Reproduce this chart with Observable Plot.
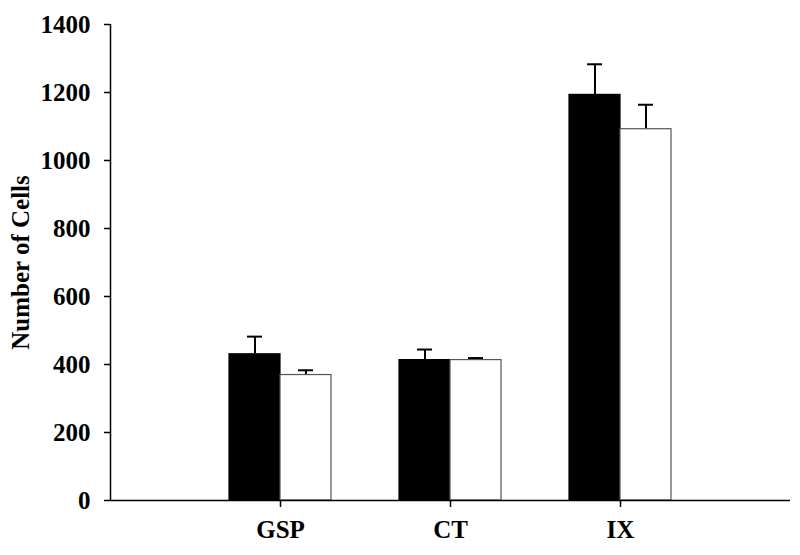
<!DOCTYPE html>
<html>
<head>
<meta charset="utf-8">
<script src="https://cdn.jsdelivr.net/npm/d3@7"></script>
<script src="https://cdn.jsdelivr.net/npm/@observablehq/plot@0.6"></script>
<style>
  html, body { margin: 0; padding: 0; background: #fff; }
  #chart svg { display: block; }
</style>
</head>
<body>
<div id="chart"></div>
<script>
const categories = ["GSP", "CT", "IX"];
const blackValues = [430, 413, 1193];
const blackErrors = [52, 31, 90];
const whiteValues = [369, 413, 1092];
const whiteErrors = [14, 6, 72];
const yTicks = [0, 200, 400, 600, 800, 1000, 1200, 1400];

const barW = 0.3;       // bar width in category units
const capHalf = 0.044;  // half-width of error bar cap

const rows = [];
categories.forEach((c, i) => {
  const pos = i + 1;
  rows.push({cat: c, series: "black", x1: pos - barW, x2: pos, xc: pos - barW / 2, v: blackValues[i], e: blackErrors[i]});
  rows.push({cat: c, series: "white", x1: pos, x2: pos + barW, xc: pos + barW / 2, v: whiteValues[i], e: whiteErrors[i]});
});

const font = "'Liberation Serif', 'Times New Roman', serif";

const chart = Plot.plot({
  width: 800,
  height: 555,
  marginLeft: 110,
  marginRight: 10,
  marginTop: 24,
  marginBottom: 55,
  style: {fontFamily: font, fontWeight: "bold", fontSize: "25px", color: "#000", background: "#fff"},
  x: {domain: [0, 4], axis: null},
  y: {domain: [0, 1400], axis: null},
  marks: [
    Plot.ruleX(rows, {x: "xc", y1: "v", y2: d => d.v + d.e, stroke: "#000", strokeWidth: 2}),
    Plot.ruleY(rows, {y: d => d.v + d.e, x1: d => d.xc - capHalf, x2: d => d.xc + capHalf, stroke: "#000", strokeWidth: 2}),
    Plot.rect(rows, {
      x1: "x1", x2: "x2", y1: 0, y2: "v",
      fill: d => d.series === "black" ? "#000" : "#fff",
      stroke: d => d.series === "black" ? "#000" : "#555",
      strokeWidth: 1.2
    }),
    Plot.axisY({ticks: yTicks, tickSize: 6, tickPadding: 14, tickFormat: d => String(d), fontSize: 25, fontWeight: "bold", label: null, strokeWidth: 1.5}),
    Plot.axisX({ticks: [1, 2, 3], tickFormat: d => categories[d - 1], tickSize: 7, tickPadding: 13, fontSize: 25, fontWeight: "bold", label: null, strokeWidth: 1.5}),
    Plot.ruleX([0], {stroke: "#000", strokeWidth: 1.5}),
    Plot.ruleY([0], {stroke: "#000", strokeWidth: 1.5}),
    Plot.text(["Number of Cells"], {
      frameAnchor: "left", textAnchor: "middle", dx: -90, rotate: -90, fontSize: 25, fontWeight: "bold", fontFamily: font, fill: "#000"
    })
  ]
});

document.getElementById("chart").appendChild(chart);
</script>
</body>
</html>
